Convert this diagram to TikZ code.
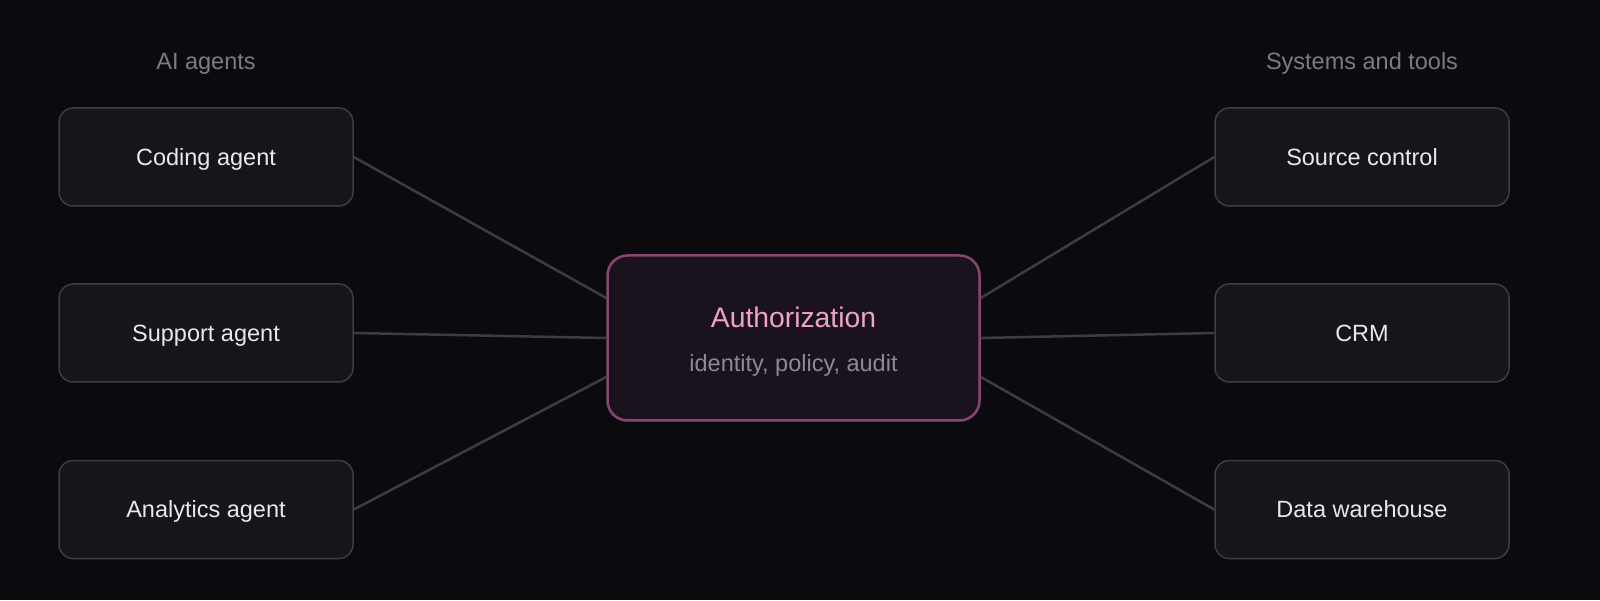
\documentclass[tikz,border=0pt]{standalone}
\usepackage{fontspec}
\setmainfont{Liberation Sans}
\usepackage{tikz}
\definecolor{bgcol}{HTML}{0B0B0F}
\definecolor{boxfill}{HTML}{16161A}
\definecolor{boxline}{HTML}{3C3C42}
\definecolor{hubfill}{HTML}{1A131E}
\definecolor{hubline}{HTML}{8C4472}
\definecolor{hubtext}{HTML}{EFA3CB}
\definecolor{subtext}{HTML}{8C8B91}
\definecolor{headtext}{HTML}{7C7B82}
\definecolor{boxtext}{HTML}{E9E9EC}

\begin{document}
\begin{tikzpicture}[x=0.5pt,y=0.5pt,
    sysbox/.style={draw=boxline,fill=boxfill,line width=0.75pt,rounded corners=7pt,
        minimum width=147pt,minimum height=49pt,inner sep=0pt,
        text=boxtext,font=\fontsize{11.75}{13}\selectfont,text height=8.4pt,text depth=0pt},
    hubbox/.style={draw=hubline,fill=hubfill,line width=1.25pt,rounded corners=10pt,
        minimum width=186pt,minimum height=82.5pt,inner sep=0pt},
    head/.style={text=headtext,font=\fontsize{11.75}{13}\selectfont,text height=8.4pt,text depth=0pt},
    link/.style={draw=boxline,line width=1.25pt}]
  % page
  \fill[bgcol] (0,0) rectangle (1600,600);
  \useasboundingbox (0,0) rectangle (1600,600);
  % column heads
  \node[head] (agentshead) at (206,539) {AI agents};
  \node[head] (toolshead) at (1362,539) {Systems and tools};
  % agents
  \node[sysbox] (coding) at (206,443) {Coding agent};
  \node[sysbox] (support) at (206,267) {Support agent};
  \node[sysbox] (analytics) at (206,90.5) {Analytics agent};
  % systems
  \node[sysbox] (source) at (1362,443) {Source control};
  \node[sysbox] (crm) at (1362,267) {CRM};
  \node[sysbox] (warehouse) at (1362,90.5) {Data warehouse};
  % hub
  \node[hubbox] (auth) at (793.5,262) {};
  \node[text=hubtext,font=\fontsize{14.15}{16}\selectfont,text height=10.1pt,text depth=0pt]
      (authtitle) at (793.5,283) {Authorization};
  \node[text=subtext,font=\fontsize{11.75}{13}\selectfont,text height=8.4pt,text depth=0pt]
      (authsub) at (793.5,237) {identity, policy, audit};
  % links
  \draw[link] (coding.east) -- ([yshift=20pt]auth.west);
  \draw[link] (support.east) -- (auth.west);
  \draw[link] (analytics.east) -- ([yshift=-19.5pt]auth.west);
  \draw[link] (source.west) -- ([yshift=20pt]auth.east);
  \draw[link] (crm.west) -- (auth.east);
  \draw[link] (warehouse.west) -- ([yshift=-19.5pt]auth.east);
\end{tikzpicture}
\end{document}
